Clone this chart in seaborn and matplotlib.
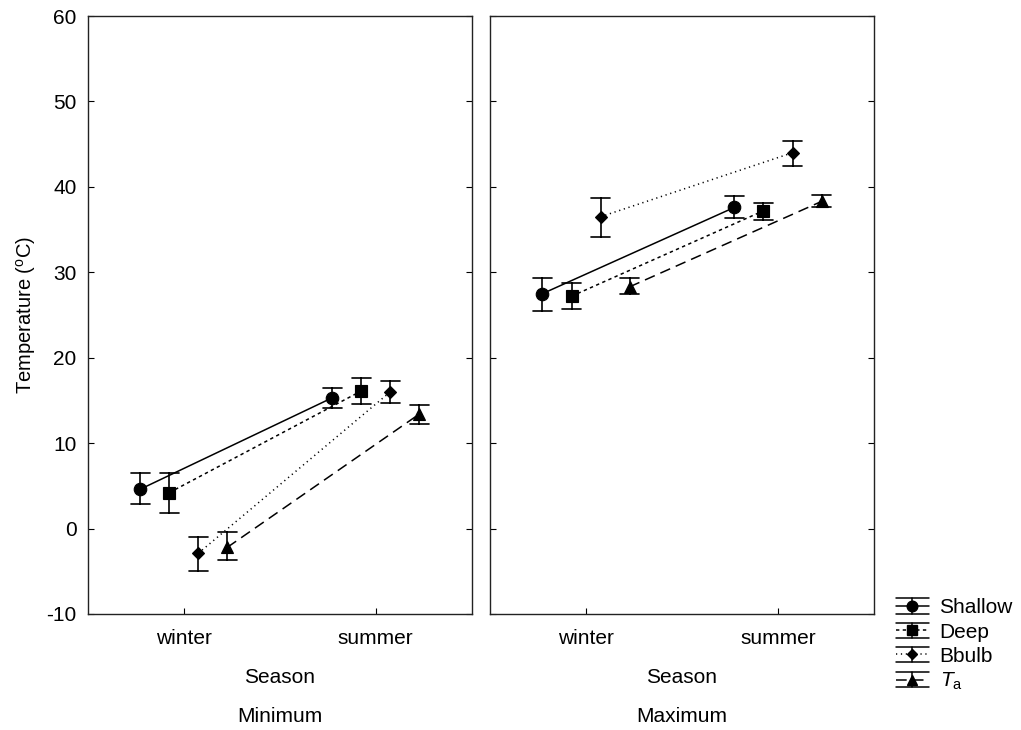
import numpy as np
import pandas as pd
import matplotlib
matplotlib.use('Agg')
import matplotlib.pyplot as plt
from matplotlib.lines import Line2D
from matplotlib.legend_handler import HandlerBase
import seaborn as sns

## Données (moyenne, borne basse, borne haute)
seasons = ['winter', 'summer']
series = ['Shallow', 'Deep', 'Bbulb', 'Ta']
labels = ['Shallow', 'Deep', 'Bbulb', r'$T_{\rm a}$']

min_mean = [[4.6, 15.3], [4.2, 16.1], [-2.9, 16.0], [-2.2, 13.4]]
min_lo = [[2.9, 14.1], [1.8, 14.6], [-5.0, 14.7], [-3.7, 12.2]]
min_hi = [[6.5, 16.5], [6.5, 17.6], [-1.0, 17.3], [-0.4, 14.5]]

max_mean = [[27.5, 37.6], [27.2, 37.2], [36.5, 44.0], [28.3, 38.3]]
max_lo = [[25.5, 36.4], [25.7, 36.1], [34.1, 42.4], [27.5, 37.6]]
max_hi = [[29.3, 38.9], [28.7, 38.1], [38.7, 45.4], [29.3, 39.0]]

markers = ['o', 's', 'D', '^']
styles = ['-', (0, (2.2, 2.2)), (0, (0.8, 2.4)), (0, (7, 4))]
msizes = {'o': 9, 's': 8, 'D': 6, '^': 8.5}
style_of = dict(zip(markers, styles))


def long_table(mean, lo, hi):
    # trois lignes par point : la médiane donne la moyenne, min/max les barres
    rows = []
    for i, s in enumerate(series):
        for j, season in enumerate(seasons):
            for v in (lo[i][j], mean[i][j], hi[i][j]):
                rows.append({'Season': season, 'serie': s, 'T': v})
    return pd.DataFrame(rows)


class HandlerErr(HandlerBase):
    # ligne + marqueur, barre verticale et deux traits horizontaux sur toute la largeur
    def create_artists(self, legend, orig, xdescent, ydescent, width, height, fontsize, trans):
        y0 = height / 2 - ydescent
        dy = 5.5
        x = [-xdescent, -xdescent + width]
        xc = -xdescent + width / 2
        mkr = orig.get_marker()
        main = Line2D(x, [y0, y0], color='black', linestyle=style_of[mkr], linewidth=1.1)
        mk = Line2D([xc], [y0], color='black', marker=mkr, markersize=orig.get_markersize(), linestyle='none')
        top = Line2D(x, [y0 + dy, y0 + dy], color='black', linewidth=1.1)
        bot = Line2D(x, [y0 - dy, y0 - dy], color='black', linewidth=1.1)
        vert = Line2D([xc, xc], [y0 - dy, y0 + dy], color='black', linewidth=1.1)
        arts = [main, top, bot, vert, mk]
        for a in arts:
            a.set_transform(trans)
        return arts


sns.set_style('ticks')
plt.rcParams['font.family'] = ['Liberation Sans', 'DejaVu Sans']
plt.rcParams['mathtext.fontset'] = 'custom'
plt.rcParams['mathtext.rm'] = 'Liberation Sans'
plt.rcParams['mathtext.it'] = 'Liberation Sans:italic'
plt.rcParams['axes.unicode_minus'] = False
plt.rcParams['text.color'] = 'black'
plt.rcParams['axes.labelcolor'] = 'black'
plt.rcParams['xtick.color'] = 'black'
plt.rcParams['ytick.color'] = 'black'
plt.rcParams['font.size'] = 15

fig = plt.figure(figsize=(10.21, 7.30), dpi=100)
ax1 = fig.add_axes([0.086, 0.159, 0.376, 0.819])
ax2 = fig.add_axes([0.480, 0.159, 0.376, 0.819])

palette = {s: 'black' for s in series}

for ax, (mean, lo, hi), name in [(ax1, (min_mean, min_lo, min_hi), 'Minimum'),
                                 (ax2, (max_mean, max_lo, max_hi), 'Maximum')]:
    df = long_table(mean, lo, hi)
    sns.pointplot(data=df, x='Season', y='T', hue='serie', order=seasons,
                  hue_order=series, palette=palette, estimator='median',
                  errorbar=lambda v: (v.min(), v.max()), markers=markers,
                  linestyles=styles, dodge=0.454, capsize=0.1,
                  linewidth=1.1, err_kws={'linewidth': 1.2}, legend=False, ax=ax)
    for line in ax.lines:
        m = line.get_marker()
        if m in msizes:
            line.set_markersize(msizes[m])
    ax.set_xlim(-0.5, 1.5)
    ax.set_ylim(-10, 60)
    ax.set_yticks(range(-10, 61, 10))
    ax.tick_params(axis='y', direction='in', length=4, left=True, right=True, pad=8, labelsize=15)
    ax.tick_params(axis='x', direction='in', length=4, top=False, pad=11, labelsize=15)
    ax.set_xlabel('Season', fontsize=15, labelpad=14)
    ax.text(0.5, -0.171, name, transform=ax.transAxes, ha='center', va='center', fontsize=15)
    for sp in ax.spines.values():
        sp.set_visible(True)
        sp.set_linewidth(1.0)
        sp.set_color('#222222')

ax1.set_ylabel('Temperature ($^{\\rm o}$C)', fontsize=14.5, labelpad=6)
ax2.set_ylabel('')
ax2.tick_params(axis='y', labelleft=False)

# légende faite à la main
handles = [Line2D([], [], color='black', marker=mk, markersize=msizes[mk] * 0.85, linestyle='-')
           for mk in markers]
fig.legend(handles, labels, loc='upper left', bbox_to_anchor=(0.859, 0.206),
           frameon=False, fontsize=15, handlelength=1.6, handletextpad=0.5,
           labelspacing=0.25, handler_map={Line2D: HandlerErr()})

fig.savefig('out.png', dpi=100)
